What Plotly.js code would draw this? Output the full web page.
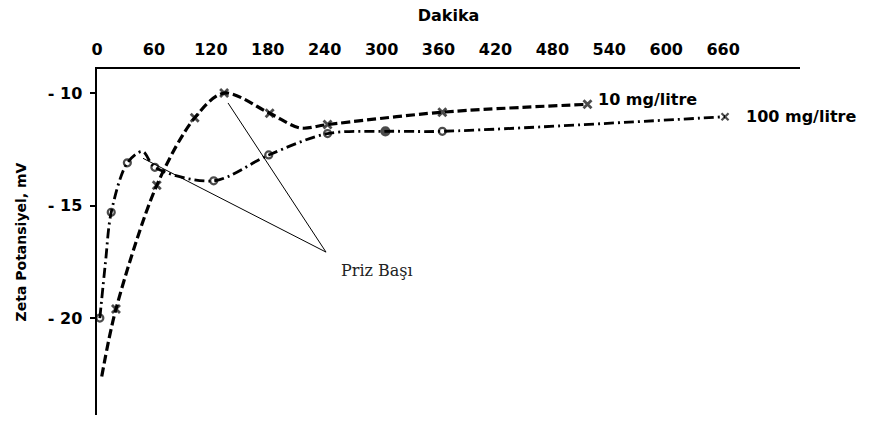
<!DOCTYPE html>
<html>
<head>
<meta charset="utf-8">
<script src="https://cdn.plot.ly/plotly-3.0.1.min.js"></script>
<style>
  html, body { margin: 0; padding: 0; background: #fff; }
  #chart { width: 875px; height: 422px; }
</style>
</head>
<body>
<div id="chart"></div>
<script>
// Zeta potential (mV) against time (minutes) for two concentrations
const seriesNames = ['10 mg/litre', '100 mg/litre'];

const minutes10 = [5, 20, 63, 103, 134, 182, 214, 243, 364, 517];
const zeta10    = [-22.6, -19.6, -14.1, -11.1, -10.0, -10.9, -11.55, -11.4, -10.85, -10.5];

const minutes100 = [3, 9, 15, 32, 48, 61, 123, 181, 243, 304, 364, 662];
const zeta100    = [-20.0, -17.5, -15.3, -13.1, -12.6, -13.3, -13.9, -12.75, -11.8, -11.7, -11.7, -11.05];

const xTickVals = [0, 60, 120, 180, 240, 300, 360, 420, 480, 540, 600, 660];
const yTickVals = [-10, -15, -20];
const yTickText = ['- 10', '- 15', '- 20'];

// "Priz Başı" (setting onset) marks: label position and the two peaks it points to
const settingLabel = 'Priz Başı';
const settingLabelAt = [295, -17.9];
const settingFrom = [241.4, -17.07];
const settingTargets = [[48.5, -12.9], [138.1, -10.44]];

// ---- styling ----
const unmarked10 = [0, 6];          // points used only to shape the curve
const unmarked100 = [1, 4];
const filled100 = [9];
const last100 = minutes100.length - 1;

const sym10 = minutes10.map(() => 'x-thin-open');
const size10 = minutes10.map((_, i) => unmarked10.includes(i) ? 0 : 8);
const sym100 = minutes100.map((_, i) =>
  i === last100 ? 'x-thin-open' : (filled100.includes(i) ? 'circle' : 'circle-open'));
const size100 = minutes100.map((_, i) => unmarked100.includes(i) ? 0 : (filled100.includes(i) ? 8 : 7));

const boldFont = { family: 'DejaVu Sans', size: 16, color: '#000', weight: 'bold' };

const traces = [
  {
    x: minutes10, y: zeta10, name: seriesNames[0], type: 'scatter', mode: 'lines+markers',
    line: { color: '#000', width: 3.2, dash: '9px,4px', shape: 'spline', smoothing: 0.9 },
    marker: { symbol: sym10, size: size10, color: '#000', line: { color: '#000', width: 2.8 } },
    cliponaxis: false
  },
  {
    x: minutes100, y: zeta100, name: seriesNames[1], type: 'scatter', mode: 'lines+markers',
    line: { color: '#000', width: 2.8, dash: '10px,4px,2px,4px', shape: 'spline', smoothing: 0.9 },
    marker: { symbol: sym100, size: size100, color: '#000', line: { color: '#000', width: 2.2 } },
    cliponaxis: false
  }
];

const shapes = settingTargets.map(p => ({
  type: 'line', xref: 'x', yref: 'y',
  x0: settingFrom[0], y0: settingFrom[1], x1: p[0], y1: p[1],
  line: { color: '#000', width: 1 }
}));

const annotations = [
  {
    x: minutes10[minutes10.length - 1], y: zeta10[zeta10.length - 1],
    text: seriesNames[0], showarrow: false, xanchor: 'left', yanchor: 'middle',
    xshift: 9, yshift: 5, font: boldFont
  },
  {
    x: minutes100[last100], y: zeta100[last100],
    text: seriesNames[1], showarrow: false, xanchor: 'left', yanchor: 'middle',
    xshift: 19, yshift: 0, font: boldFont
  },
  {
    x: settingLabelAt[0], y: settingLabelAt[1], text: settingLabel, showarrow: false,
    xanchor: 'center', yanchor: 'middle',
    font: { family: 'DejaVu Serif', size: 16, color: '#222' }
  }
];

const layout = {
  width: 875, height: 422,
  margin: { l: 97, r: 75, t: 69, b: 7 },
  paper_bgcolor: '#fff', plot_bgcolor: '#fff',
  showlegend: false,
  xaxis: {
    side: 'top', range: [0, 741], automargin: false,
    tickmode: 'array', tickvals: xTickVals,
    ticks: '', ticklabelstandoff: 6,
    tickfont: boldFont,
    showline: true, linecolor: '#000', linewidth: 2,
    showgrid: false, zeroline: false,
    title: { text: 'Dakika', font: boldFont, standoff: 14 }
  },
  yaxis: {
    range: [-24.31, -8.93], automargin: false,
    tickmode: 'array', tickvals: yTickVals, ticktext: yTickText,
    ticks: 'outside', ticklen: 5, tickwidth: 2, tickcolor: '#000',
    ticklabelstandoff: 4,
    tickfont: boldFont,
    showline: true, linecolor: '#000', linewidth: 2.5,
    showgrid: false, zeroline: false,
    title: { text: 'Zeta Potansiyel, mV', font: { family: 'DejaVu Sans', size: 14, color: '#000', weight: 'bold' }, standoff: 18 }
  },
  shapes: shapes,
  annotations: annotations
};

Plotly.newPlot('chart', traces, layout, { displayModeBar: false, staticPlot: true });
</script>
</body>
</html>
